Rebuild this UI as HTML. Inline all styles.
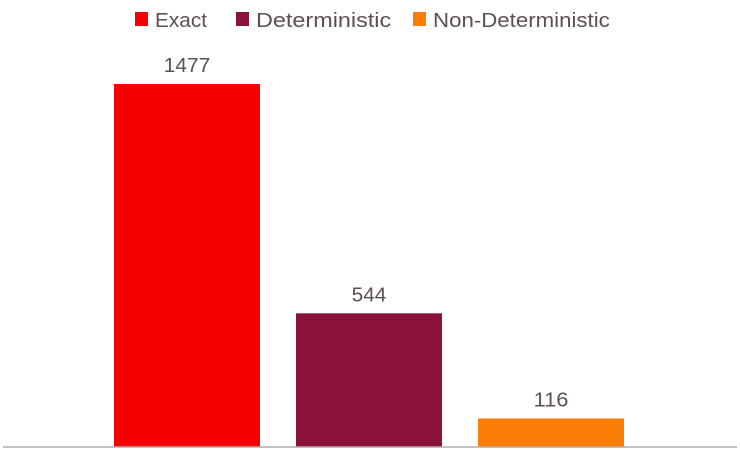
<!DOCTYPE html>
<html><head><meta charset="utf-8"><style>
html,body{margin:0;padding:0;background:#fff;}
svg text{font-family:"Liberation Sans",sans-serif;fill:#5d5050;}
</style></head><body>
<svg width="740" height="453" viewBox="0 0 740 453">
<g id="legend"></g>
<g id="bars"></g>
<line x1="3" y1="447" x2="737" y2="447" stroke="#b3aaaa" stroke-width="1.5"/>
</svg>
<script>
const categories = ["Exact", "Deterministic", "Non-Deterministic"];
const values = [1477, 544, 116];
const colors = ["#f70000", "#8b1238", "#fa7d08"];
const NS = "http://www.w3.org/2000/svg";
const baseY = 447, topY = 84, maxV = 1477;
function yScale(v){ return baseY - v * (baseY - topY) / maxV; }
function xScale(i){ return 114 + i * 182; }
const barW = 146;
const bars = document.getElementById('bars');
values.forEach((v,i)=>{
  const r = document.createElementNS(NS,'rect');
  r.setAttribute('x', xScale(i)); r.setAttribute('y', yScale(v));
  r.setAttribute('width', barW); r.setAttribute('height', baseY - yScale(v));
  r.setAttribute('fill', colors[i]);
  
  
  bars.appendChild(r);
  const t = document.createElementNS(NS,'text');
  t.setAttribute('x', xScale(i) + barW/2); t.setAttribute('y', yScale(v) - 12);
  t.setAttribute('text-anchor','middle'); t.setAttribute('font-size','20');
  t.setAttribute('textLength', String(v).length * 11.6);
  t.setAttribute('lengthAdjust','spacingAndGlyphs');
  t.textContent = v;
  
  
  bars.appendChild(t);
});
const legend = document.getElementById('legend');
const legX = [135, 236, 413];
categories.forEach((c,i)=>{
  const g = document.createElementNS(NS,'g');
  
  
  const s = document.createElementNS(NS,'rect');
  s.setAttribute('x', legX[i]); s.setAttribute('y', 12);
  s.setAttribute('width', 13); s.setAttribute('height', 14);
  s.setAttribute('fill', colors[i]);
  g.appendChild(s);
  const t = document.createElementNS(NS,'text');
  t.setAttribute('x', legX[i] + 20); t.setAttribute('y', 27);
  t.setAttribute('font-size','20');
  t.setAttribute('textLength', c.length * 10.4);
  t.setAttribute('lengthAdjust','spacingAndGlyphs');
  t.textContent = c;
  g.appendChild(t);
  legend.appendChild(g);
});
</script>
</body></html>
